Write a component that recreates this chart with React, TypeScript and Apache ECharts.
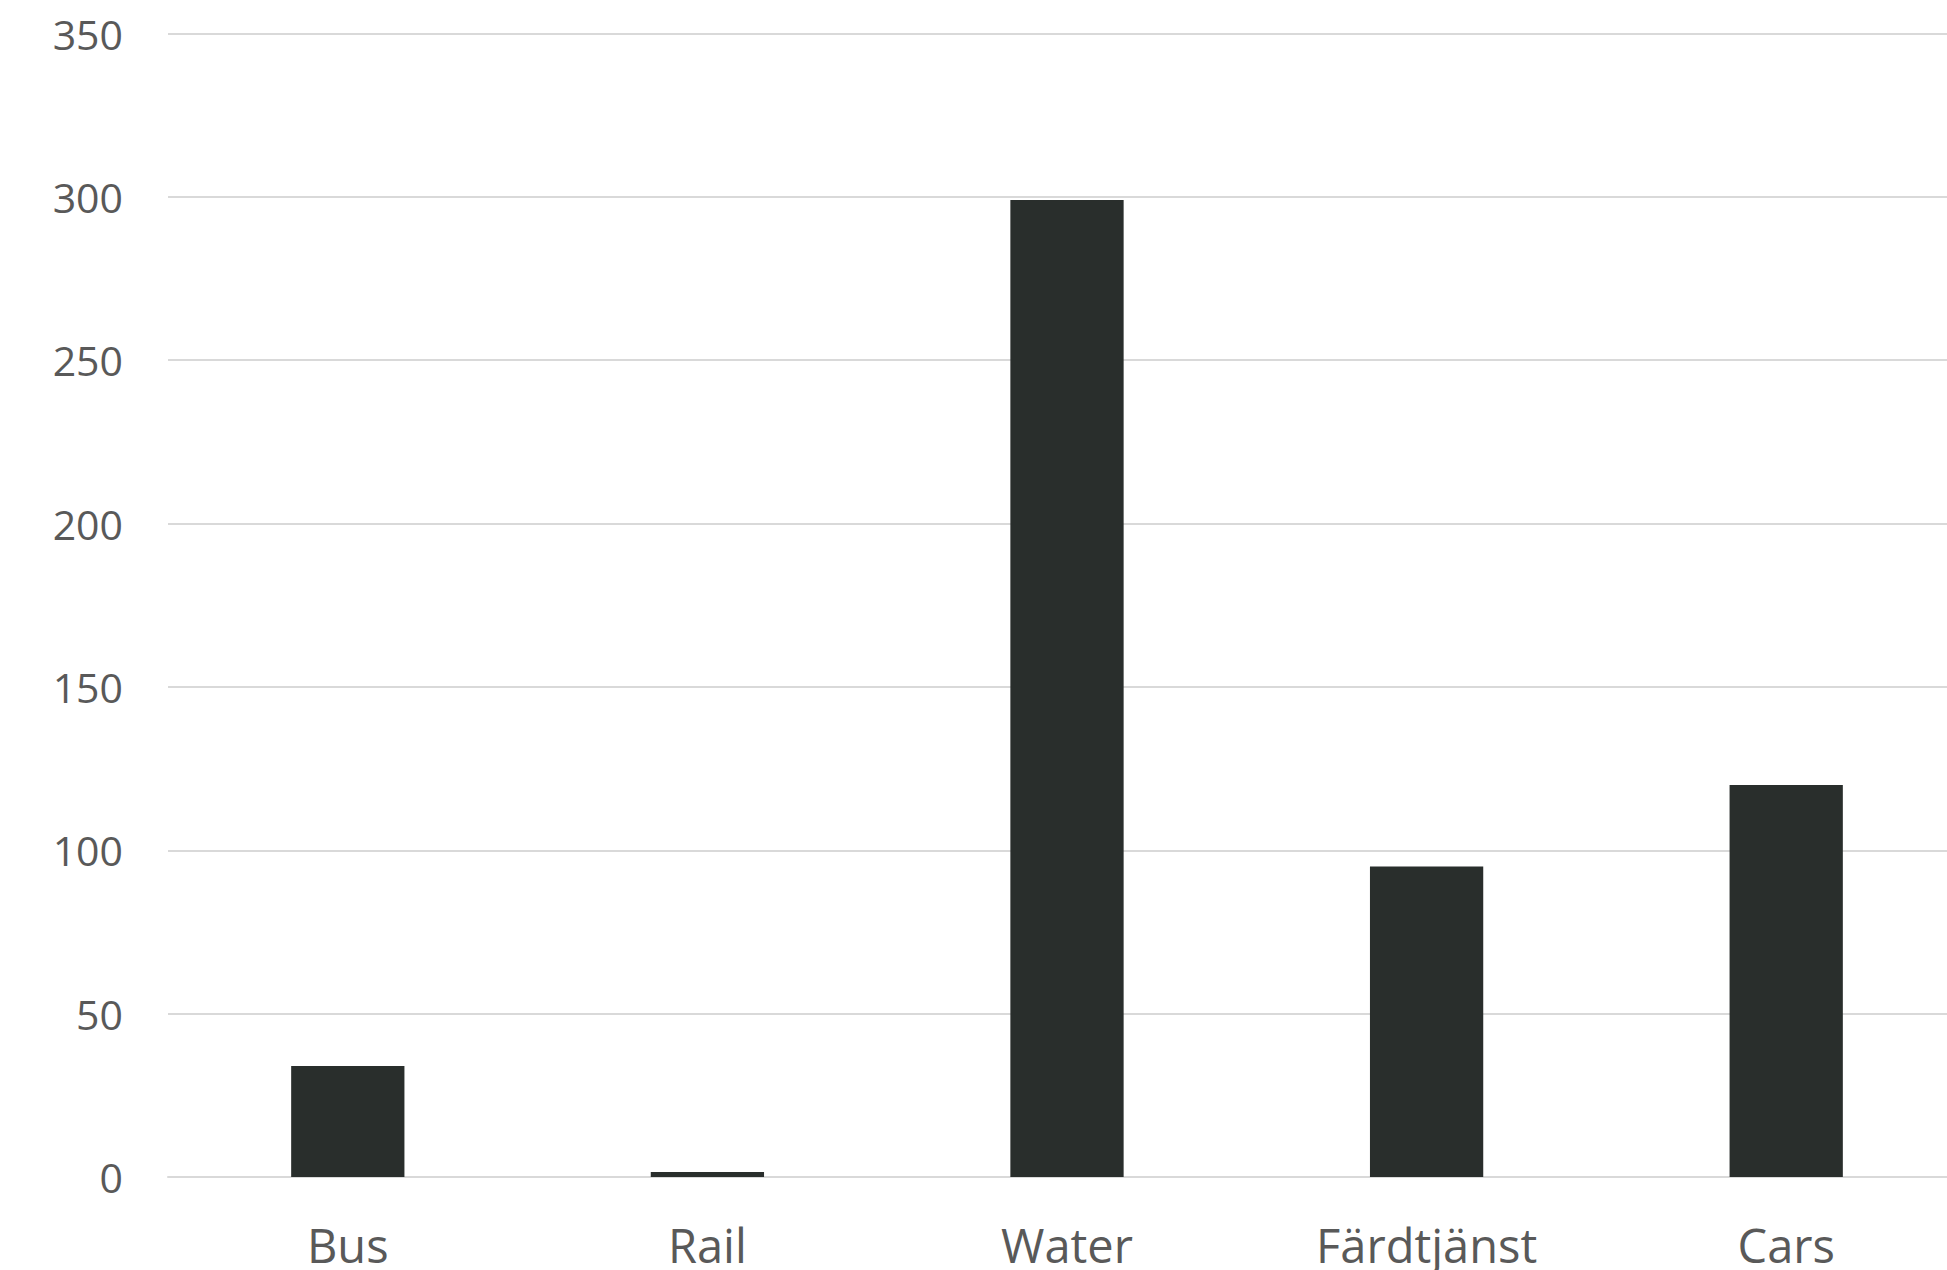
import React, { useEffect, useRef } from "react";
import * as echarts from "echarts";

const categories = ["Bus", "Rail", "Water", "Färdtjänst", "Cars"];
const values = [34, 1.5, 299, 95, 120];
const yMin = 0;
const yMax = 350;
const yInterval = 50;

export default function App() {
  const ref = useRef<HTMLDivElement>(null);
  useEffect(() => {
    if (!ref.current) return;
    const chart = echarts.init(ref.current, null, { renderer: "svg" });
    chart.setOption({
      animation: false,
      backgroundColor: "#ffffff",
      grid: { left: 168, right: 0, top: 33.5, bottom: 93, containLabel: false },
      xAxis: {
        type: "category",
        data: categories,
        axisLine: { show: true, lineStyle: { color: "#D9D9D9", width: 2 } },
        axisTick: { show: false },
        axisLabel: {
          color: "#595959",
          fontFamily: "Open Sans",
          fontSize: 47,
          lineHeight: 40,
          margin: 48,
          interval: 0,
        },
      },
      yAxis: {
        type: "value",
        min: yMin,
        max: yMax,
        interval: yInterval,
        axisLine: { show: false },
        axisTick: { show: false },
        splitLine: { lineStyle: { color: "#D9D9D9", width: 2 } },
        axisLabel: {
          color: "#595959",
          fontFamily: "Open Sans",
          fontSize: 41,
          margin: 45,
        },
      },
      series: [
        {
          type: "bar",
          data: values,
          barWidth: "31.5%",
          itemStyle: { color: "#292E2C" },
        },
      ],
    });
    return () => chart.dispose();
  }, []);
  return (
    <div
      style={{
        position: "fixed",
        left: 0,
        top: 0,
        width: 1947,
        height: 1270,
        overflow: "hidden",
        background: "#ffffff",
      }}
    >
      <div ref={ref} style={{ width: 1966, height: 1270 }} />
    </div>
  );
}
